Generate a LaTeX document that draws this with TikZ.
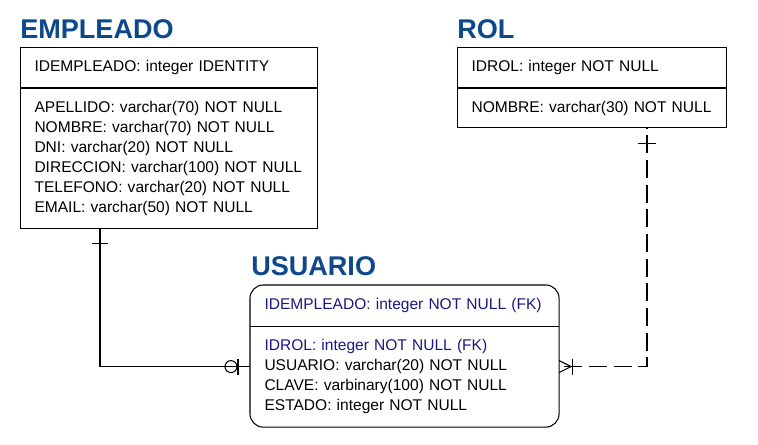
\documentclass[tikz,border=0pt]{standalone}
\usepackage{fontspec}
\setmainfont{Liberation Sans}
\usetikzlibrary{positioning, calc}
\definecolor{titleblue}{RGB}{14,72,140}
\definecolor{fkblue}{RGB}{24,24,128}
\newcommand{\fld}[1]{\mbox{#1}}

\begin{document}
\begin{tikzpicture}[
  x=0.75pt, y=-0.75pt,
  title/.style = {anchor=base west, inner sep=0pt, text=titleblue,
                  font=\fontsize{20.3}{21}\selectfont\bfseries},
  keybox/.style = {draw, line width=0.8pt, anchor=north west, align=left,
                   inner xsep=10.5pt, inner ysep=0pt, minimum height=30pt},
  attrbox/.style = {draw, line width=0.8pt, align=left, inner xsep=10.5pt,
                    inner ysep=0pt},
  rel/.style = {line width=0.8pt},
  fk/.style = {text=fkblue},
  every node/.style = {font=\fontsize{11.65}{15.1}\selectfont}
]

% Frame
\useasboundingbox (0,0) rectangle (758,445);

% EMPLEADO
\node[title] (emp-title) at (20,39) {EMPLEADO};
\node[keybox, text width=201.75pt] (emp-pk) at (20,47) {\fld{IDEMPLEADO: integer IDENTITY}};
\node[attrbox, text width=201.75pt, minimum height=105pt, below=0pt of emp-pk] (emp-attr)
  {\fld{APELLIDO: varchar(70) NOT NULL}\\
   \fld{NOMBRE: varchar(70) NOT NULL}\\
   \fld{DNI: varchar(20) NOT NULL}\\
   \fld{DIRECCION: varchar(100) NOT NULL}\\
   \fld{TELEFONO: varchar(20) NOT NULL}\\
   \fld{EMAIL: varchar(50) NOT NULL}};

% ROL
\node[title] (rol-title) at (457,39) {ROL};
\node[keybox, text width=180.75pt] (rol-pk) at (457,47) {\fld{IDROL: integer NOT NULL}};
\node[attrbox, text width=180.75pt, minimum height=29.25pt, below=0pt of rol-pk] (rol-attr)
  {\fld{NOMBRE: varchar(30) NOT NULL}};

% USUARIO (rounded outline)
\node[title] (usu-title) at (251,276) {USUARIO};
\node[keybox, draw=none, fk, text width=210pt] (usu-pk) at (250,285)
  {\fld{IDEMPLEADO: integer NOT NULL (FK)}};
\node[attrbox, draw=none, text width=210pt, minimum height=75pt, below=0pt of usu-pk] (usu-attr)
  {\fld{\textcolor{fkblue}{IDROL: integer NOT NULL (FK)}}\\
   \fld{USUARIO: varchar(20) NOT NULL}\\
   \fld{CLAVE: varbinary(100) NOT NULL}\\
   \fld{ESTADO: integer NOT NULL}};
\draw[rel, rounded corners=10pt] (usu-pk.north west) rectangle (usu-attr.south east);
\draw[rel] (usu-pk.south west) -- (usu-pk.south east);

% EMPLEADO -- USUARIO
\coordinate (emp-foot) at ($(emp-attr.south west)+(80,0)$);
\coordinate (usu-left) at ($(usu-attr.west)+(0,-10)$);
\draw[rel] (emp-foot) |- (usu-left);
\draw[rel] ($(emp-foot)+(-8,14)$) -- ++(16,0);
\draw[rel] ($(usu-left)+(-19,0)$) circle[radius=4.5pt];
\draw[rel] ($(usu-left)+(-12,-8)$) -- ++(0,16);

% ROL -- USUARIO
\coordinate (rol-foot) at ($(rol-attr.south west)+(190,0)$);
\coordinate (usu-right) at ($(usu-attr.east)+(0,-10)$);
\draw[rel, dash pattern=on 13.5pt off 5pt, dash phase=-4pt] (usu-right) -| (rol-foot);
\draw[rel] ($(usu-right)+(0,-6)$) -- ($(usu-right)+(12,0)$) -- ($(usu-right)+(0,6)$);
\draw[rel] ($(usu-right)+(13,-8)$) -- ++(0,16);
\draw[rel] ($(rol-foot)+(-9,15)$) -- ++(18,0);

\end{tikzpicture}
\end{document}
